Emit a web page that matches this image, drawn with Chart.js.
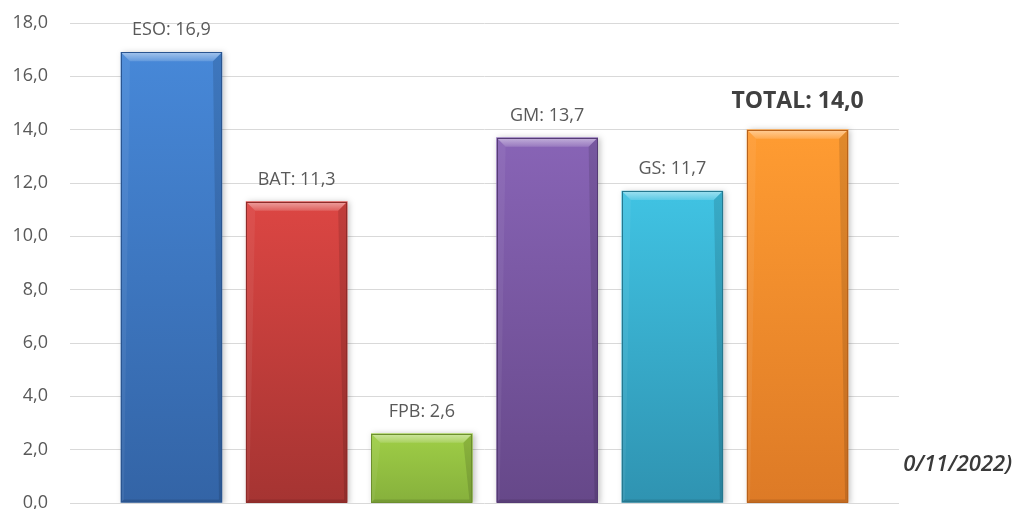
<!DOCTYPE html>
<html>
<head>
<meta charset="utf-8">
<script src="https://cdn.jsdelivr.net/npm/chart.js@4.4.1/dist/chart.umd.min.js"></script>
<style>
  html, body { margin: 0; padding: 0; background: #ffffff; }
  #wrap { position: relative; width: 1015px; height: 509px; }
</style>
</head>
<body>
<div id="wrap"><canvas id="c" width="1015" height="509"></canvas></div>
<script>
// ---- data ----
const categories = ['ESO', 'BAT', 'FPB', 'GM', 'GS', 'TOTAL'];
const values = [16.9, 11.3, 2.6, 13.7, 11.7, 14.0];
const yMin = 0;
const yMax = 18;
const yStep = 2;
const footnoteText = '0/11/2022)';

// ---- styles ----
const topColors    = ['#4788d8', '#dc4643', '#9fce46', '#8864b6', '#40c3e3', '#ff9c32'];
const bottomColors = ['#3364a6', '#a53432', '#86b03c', '#664889', '#2f93b1', '#dd7a26'];
const edgeColors   = ['#2a5590', '#8e2b29', '#6c8f2e', '#553b75', '#25788f', '#b8621c'];

const fmt = v => v.toFixed(1).replace('.', ',');

const barData = categories.map((c, i) => ({ x: i, y: values[i] }));

const shadowPlugin = {
  id: 'shadow',
  beforeDatasetsDraw(chart) {
    const ctx = chart.ctx;
    ctx.save();
    ctx.shadowColor = 'rgba(0,0,0,0.25)';
    ctx.shadowBlur = 6;
    ctx.shadowOffsetX = 2;
    ctx.shadowOffsetY = 1;
  },
  afterDatasetsDraw(chart) {
    chart.ctx.restore();
  }
};

const bevelPlugin = {
  id: 'bevel',
  afterDatasetsDraw(chart) {
    const ctx = chart.ctx;
    const meta = chart.getDatasetMeta(0);
    meta.data.forEach((bar, i) => {
      const p = bar.getProps(['x', 'y', 'width', 'base'], true);
      const l = p.x - p.width / 2, r = p.x + p.width / 2, t = p.y, b = p.base;
      const bv = 9, sv = 3;
      ctx.save();
      // top bevel
      const g = ctx.createLinearGradient(0, t, 0, t + bv);
      g.addColorStop(0, 'rgba(255,255,255,0.50)');
      g.addColorStop(1, 'rgba(255,255,255,0.15)');
      ctx.fillStyle = g;
      ctx.beginPath();
      ctx.moveTo(l, t); ctx.lineTo(r, t); ctx.lineTo(r - bv, t + bv); ctx.lineTo(l + bv, t + bv); ctx.closePath();
      ctx.fill();
      // left side light
      ctx.fillStyle = 'rgba(255,255,255,0.06)';
      ctx.beginPath();
      ctx.moveTo(l, t); ctx.lineTo(l + bv, t + bv); ctx.lineTo(l + sv, b - sv); ctx.lineTo(l, b); ctx.closePath();
      ctx.fill();
      // right side dark
      ctx.fillStyle = 'rgba(0,0,0,0.12)';
      ctx.beginPath();
      ctx.moveTo(r, t); ctx.lineTo(r - bv, t + bv); ctx.lineTo(r - sv, b - sv); ctx.lineTo(r, b); ctx.closePath();
      ctx.fill();
      // bottom dark
      ctx.fillStyle = 'rgba(0,0,0,0.12)';
      ctx.beginPath();
      ctx.moveTo(l, b); ctx.lineTo(r, b); ctx.lineTo(r - sv, b - sv); ctx.lineTo(l + sv, b - sv); ctx.closePath();
      ctx.fill();
      // border
      ctx.strokeStyle = edgeColors[i];
      ctx.lineWidth = 1;
      ctx.strokeRect(Math.round(l) + 0.5, Math.round(t) + 0.5, Math.round(r - l) - 1, Math.round(b - t) - 1);
      ctx.restore();
    });
  }
};

const labelPlugin = {
  id: 'labels',
  afterDatasetsDraw(chart) {
    const ctx = chart.ctx;
    const meta = chart.getDatasetMeta(0);
    ctx.save();
    ctx.textAlign = 'center';
    ctx.textBaseline = 'middle';
    meta.data.forEach((bar, i) => {
      const isTotal = categories[i] === 'TOTAL';
      ctx.font = isTotal ? 'bold 23px "Open Sans"' : '18px "Open Sans"';
      ctx.fillStyle = isTotal ? '#404040' : '#595959';
      ctx.fillText(categories[i] + ': ' + fmt(values[i]), bar.x, bar.y - (isTotal ? 28 : 22));
    });
    ctx.restore();
  }
};

const footnotePlugin = {
  id: 'footnote',
  afterDraw(chart) {
    const ctx = chart.ctx;
    const a = chart.chartArea;
    ctx.save();
    ctx.beginPath();
    ctx.rect(a.right - 1, 0, chart.width - a.right + 1, chart.height);
    ctx.clip();
    ctx.font = 'italic 600 22px "Open Sans"';
    ctx.fillStyle = '#3a3a3a';
    ctx.textAlign = 'right';
    ctx.textBaseline = 'middle';
    ctx.fillText(footnoteText, 1012, 465);
    ctx.restore();
  }
};

new Chart(document.getElementById('c'), {
  type: 'bar',
  data: {
    datasets: [{
      data: barData,
      backgroundColor: (c) => {
        const chart = c.chart;
        const i = c.dataIndex;
        if (!chart.chartArea || i === undefined) return topColors[i || 0];
        const y = chart.scales.y;
        const top = y.getPixelForValue(values[i]);
        const bot = y.getPixelForValue(0);
        const g = chart.ctx.createLinearGradient(0, top, 0, bot);
        g.addColorStop(0, topColors[i]);
        g.addColorStop(1, bottomColors[i]);
        return g;
      },
      borderWidth: 0,
      barThickness: 101
    }]
  },
  options: {
    responsive: false,
    animation: false,
    devicePixelRatio: 1,
    layout: { padding: { left: 0, right: 116, top: 23, bottom: 6 } },
    plugins: { legend: { display: false }, tooltip: { enabled: false } },
    scales: {
      x: {
        type: 'linear',
        min: -0.81,
        max: 5.81,
        offset: false,
        display: false,
        grid: { display: false }
      },
      y: {
        min: yMin,
        max: yMax,
        afterFit(scale) {
          scale.width = 70;
          scale.paddingTop = 0;
          scale.paddingBottom = 0;
        },
        ticks: {
          stepSize: yStep,
          padding: 22,
          color: '#595959',
          font: { family: '"Open Sans"', size: 18 },
          callback: v => fmt(v)
        },
        grid: { color: '#d9d9d9', lineWidth: 1, drawTicks: false },
        border: { display: false }
      }
    }
  },
  plugins: [shadowPlugin, bevelPlugin, labelPlugin, footnotePlugin]
});
</script>
</body>
</html>
